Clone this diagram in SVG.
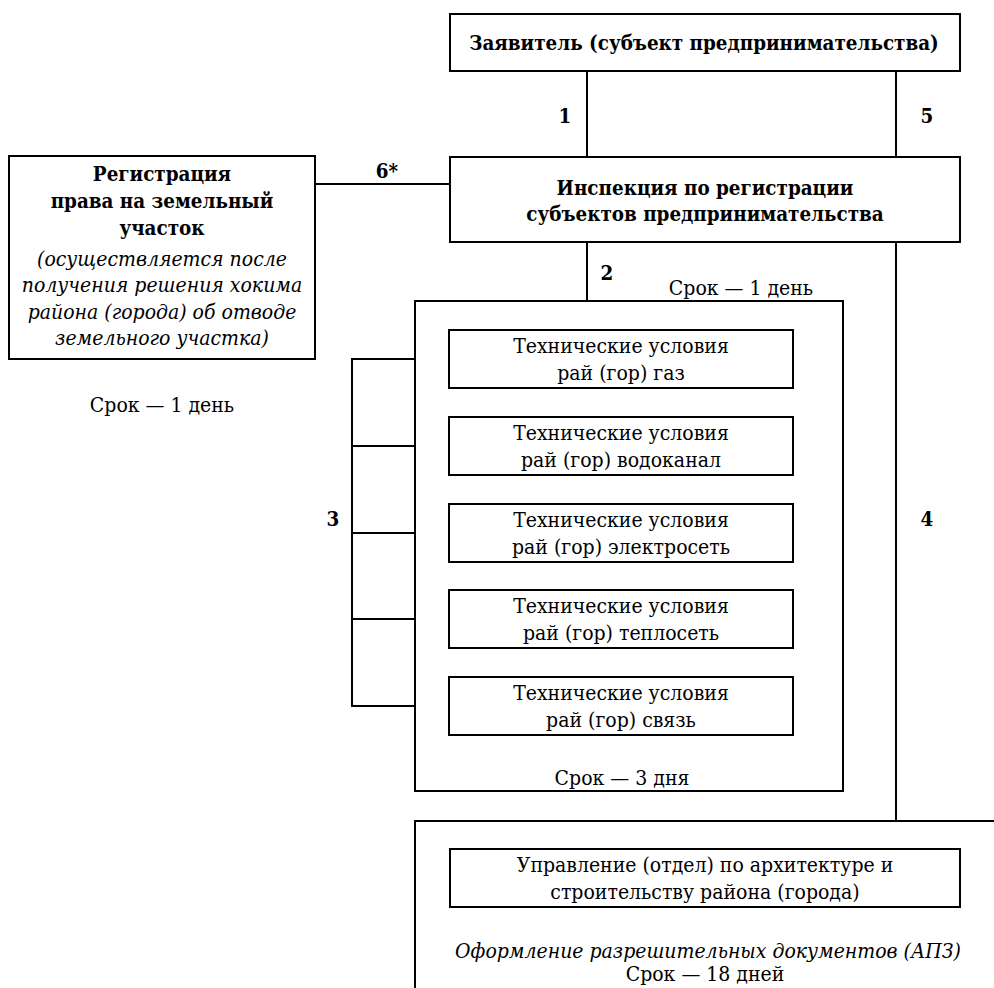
<svg xmlns="http://www.w3.org/2000/svg" width="994" height="988" viewBox="0 0 994 988">
<style>
.box{fill:#fff;stroke:#000;stroke-width:2}
.ln{fill:none;stroke:#000;stroke-width:2}
text{font-family:'DejaVu Serif Condensed','DejaVu Serif',serif;font-stretch:condensed;font-size:21px;fill:#000}
.b{font-weight:bold;font-size:20.4px}
.i{font-style:italic}
.c{text-anchor:middle}
</style>
<rect width="994" height="988" fill="#fff"/>
<g id="connectors">
<line class="ln" x1="587" y1="71" x2="587" y2="157"/>
<line class="ln" x1="896" y1="71" x2="896" y2="157"/>
<line class="ln" x1="315" y1="184" x2="450" y2="184"/>
<line class="ln" x1="587" y1="242" x2="587" y2="301"/>
<line class="ln" x1="896" y1="242" x2="896" y2="821"/>
<path class="ln" d="M415 359 H352 V706 H415 M352 446 H415 M352 533 H415 M352 619 H415"/>
<text class="b c" x="565" y="123">1</text>
<text class="b c" x="927" y="123">5</text>
<text class="b c" x="387" y="178">6*</text>
<text class="b c" x="607" y="280">2</text>
<text class="b c" x="333" y="526">3</text>
<text class="b c" x="927" y="526">4</text>
</g>
<g id="applicant">
<rect class="box" x="450" y="14" width="510" height="57"/>
<text class="b c" x="704" y="50">Заявитель (субъект предпринимательства)</text>
</g>
<g id="inspection">
<rect class="box" x="450" y="157" width="510" height="85"/>
<text class="b c" x="705" y="195">Инспекция по регистрации</text>
<text class="b c" x="705" y="221">субъектов предпринимательства</text>
</g>
<g id="land-registration">
<rect class="box" x="9" y="156" width="306" height="203"/>
<text class="b c" x="162" y="181">Регистрация</text>
<text class="b c" x="162" y="208">права на земельный</text>
<text class="b c" x="162" y="235">участок</text>
<text class="i c" x="162" y="266">(осуществляется после</text>
<text class="i c" x="162" y="292">получения решения хокима</text>
<text class="i c" x="162" y="319">района (города) об отводе</text>
<text class="i c" x="162" y="345">земельного участка)</text>
<text class="c" x="162" y="412">Срок — 1 день</text>
</g>
<g id="tech-conditions">
<rect class="box" x="415" y="301" width="428" height="490"/>
<text class="c" x="741" y="295">Срок — 1 день</text>
<text class="c" x="622" y="785">Срок — 3 дня</text>
</g>
<g id="gas">
<rect class="box" x="449" y="330" width="344" height="58"/>
<text class="c" x="621" y="353">Технические условия</text>
<text class="c" x="621" y="380">рай (гор) газ</text>
</g>
<g id="water">
<rect class="box" x="449" y="417" width="344" height="58"/>
<text class="c" x="621" y="440">Технические условия</text>
<text class="c" x="621" y="467">рай (гор) водоканал</text>
</g>
<g id="electric">
<rect class="box" x="449" y="504" width="344" height="58"/>
<text class="c" x="621" y="527">Технические условия</text>
<text class="c" x="621" y="554">рай (гор) электросеть</text>
</g>
<g id="heating">
<rect class="box" x="449" y="590" width="344" height="58"/>
<text class="c" x="621" y="613">Технические условия</text>
<text class="c" x="621" y="640">рай (гор) теплосеть</text>
</g>
<g id="telecom">
<rect class="box" x="449" y="677" width="344" height="58"/>
<text class="c" x="621" y="700">Технические условия</text>
<text class="c" x="621" y="727">рай (гор) связь</text>
</g>
<g id="architecture-frame">
<path class="ln" d="M996 821 H415 V990"/>
<text class="i c" x="708" y="958">Оформление разрешительных документов (АПЗ)</text>
<text class="c" x="705" y="981">Срок — 18 дней</text>
</g>
<g id="architecture">
<rect class="box" x="450" y="849" width="510" height="58"/>
<text class="c" x="705" y="872">Управление (отдел) по архитектуре и</text>
<text class="c" x="705" y="899">строительству района (города)</text>
</g>
</svg>
